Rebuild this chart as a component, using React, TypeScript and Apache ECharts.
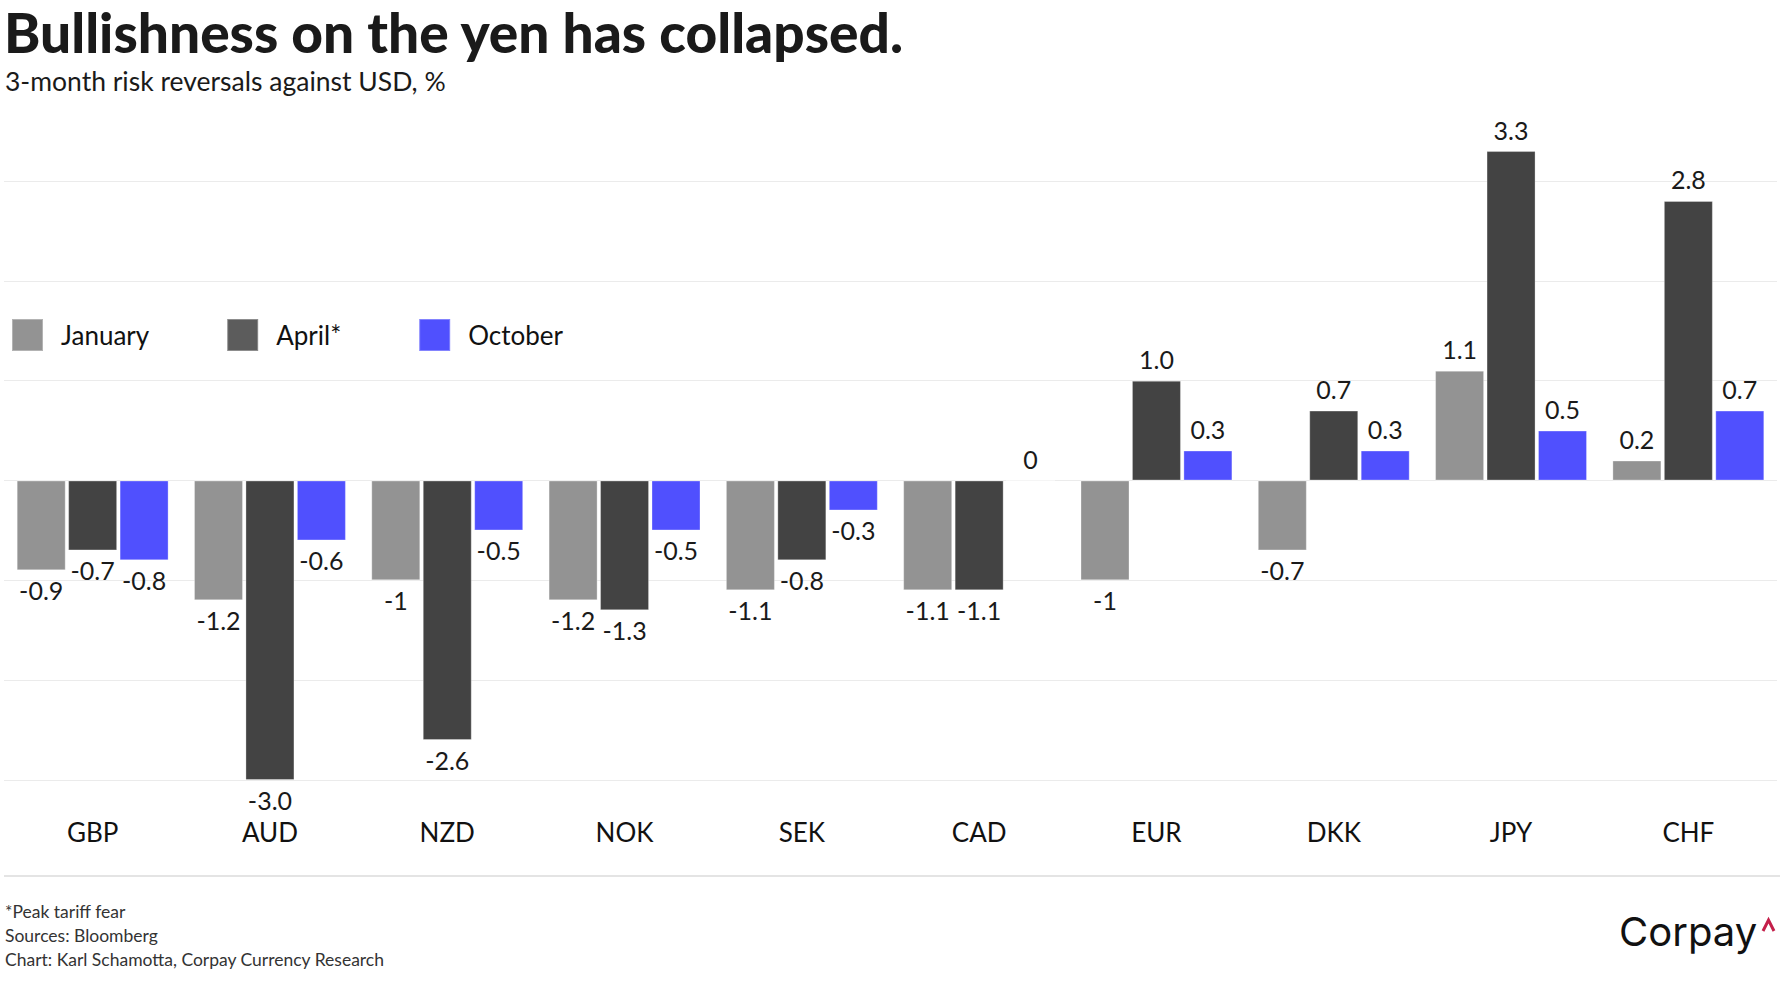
import React, { useEffect, useRef } from "react";
import * as echarts from "echarts";

const categories = ["GBP", "AUD", "NZD", "NOK", "SEK", "CAD", "EUR", "DKK", "JPY", "CHF"];
const january = [-0.9, -1.2, -1, -1.2, -1.1, -1.1, -1, -0.7, 1.1, 0.2];
const april = [-0.7, -3.0, -2.6, -1.3, -0.8, -1.1, 1.0, 0.7, 3.3, 2.8];
const october = [-0.8, -0.6, -0.5, -0.5, -0.3, 0, 0.3, 0.3, 0.5, 0.7];
const januaryLabels = ["-0.9", "-1.2", "-1", "-1.2", "-1.1", "-1.1", "-1", "-0.7", "1.1", "0.2"];
const aprilLabels = ["-0.7", "-3.0", "-2.6", "-1.3", "-0.8", "-1.1", "1.0", "0.7", "3.3", "2.8"];
const octoberLabels = ["-0.8", "-0.6", "-0.5", "-0.5", "-0.3", "0", "0.3", "0.3", "0.5", "0.7"];
const seriesNames = ["January", "April*", "October"];
const seriesColors = ["#939393", "#434343", "#5050fe"];
const legendColors = ["#939393", "#5c5c5c", "#5050fe"];

const TITLE = "Bullishness on the yen has collapsed.";
const SUBTITLE = "3-month risk reversals against USD, %";
const NOTES = ["*Peak tariff fear", "Sources: Bloomberg", "Chart: Karl Schamotta, Corpay Currency Research"];

const FONT = "Lato, 'Noto Sans', sans-serif";

function buildData(values: number[], labels: string[]) {
  return values.map((v, i) => ({
    value: v,
    label: {
      position: v < 0 ? "bottom" : "top",
      distance: v < 0 ? 7 : 9,
      formatter: labels[i],
    },
  }));
}

export default function App() {
  const ref = useRef<HTMLDivElement>(null);
  useEffect(() => {
    if (!ref.current) return;
    const chart = echarts.init(ref.current, undefined, { renderer: "svg" });
    const valuesList = [january, april, october];
    const labelsList = [januaryLabels, aprilLabels, octoberLabels];
    const option: any = {
      animation: false,
      backgroundColor: "#ffffff",
      textStyle: { fontFamily: FONT },
      grid: { left: 4, right: 7, top: 181, bottom: 220, containLabel: false },
      legend: {
        left: 11,
        top: 318,
        padding: 0,
        itemWidth: 31,
        itemHeight: 32,
        itemGap: 77,
        icon: "rect",
        selectedMode: false,
        textStyle: { fontSize: 26, color: "#111111", fontFamily: FONT, padding: [0, 0, 0, 13] },
        data: seriesNames.map((n, i) => ({ name: n, itemStyle: { color: legendColors[i] } })),
      },
      xAxis: {
        type: "category",
        data: categories,
        axisLine: { show: false, onZero: false },
        axisTick: { show: false },
        axisLabel: { margin: 39, fontSize: 26, color: "#111111", fontFamily: FONT },
        splitLine: { show: false },
      },
      yAxis: {
        type: "value",
        min: -3,
        max: 3,
        interval: 1,
        axisLabel: { show: false },
        axisLine: { show: false },
        axisTick: { show: false },
        splitLine: { show: true, lineStyle: { color: "#ebebeb", width: 1 } },
      },
      series: seriesNames.map((name, s) => ({
        name,
        type: "bar",
        clip: false,
        barWidth: 49,
        barGap: "5%",
        itemStyle: { color: seriesColors[s], borderColor: "rgba(255,255,255,0.3)", borderWidth: 1 },
        label: { show: true, fontSize: 25, color: "#1a1a1a", fontFamily: FONT },
        data: buildData(valuesList[s], labelsList[s]),
      })),
      graphic: [
        {
          type: "text",
          left: 4,
          top: 4,
          style: { text: TITLE, fontSize: 55, lineHeight: 56, fontWeight: 900, fontFamily: FONT, fill: "#1a1a1a" },
        },
        {
          type: "text",
          left: 5,
          top: 67,
          style: { text: SUBTITLE, fontSize: 26.5, fontFamily: FONT, fill: "#1a1a1a" },
        },
        ...NOTES.map((t, i) => ({
          type: "text",
          left: 5,
          top: 902 + i * 24,
          style: { text: t, fontSize: 17.5, fontFamily: FONT, fill: "#333333" },
        })),
        {
          type: "line",
          shape: { x1: 4, y1: 876, x2: 1780, y2: 876 },
          style: { stroke: "#e4e4e4", lineWidth: 2 },
        },
        {
          type: "text",
          left: 1619,
          top: 911,
          style: { text: "Corpay", fontSize: 40, fontFamily: "Inter, 'Open Sans', sans-serif", fill: "#111111" },
        },
        {
          type: "polyline",
          shape: { points: [[1763, 931], [1768.5, 920], [1774, 931]] },
          style: { stroke: "#c41f4a", lineWidth: 3, fill: "none" },
        },
      ],
    };
    chart.setOption(option);
    return () => chart.dispose();
  }, []);
  return (
    <div
      ref={ref}
      style={{ position: "absolute", left: 0, top: 0, width: 1784, height: 1000, background: "#fff" }}
    />
  );
}
